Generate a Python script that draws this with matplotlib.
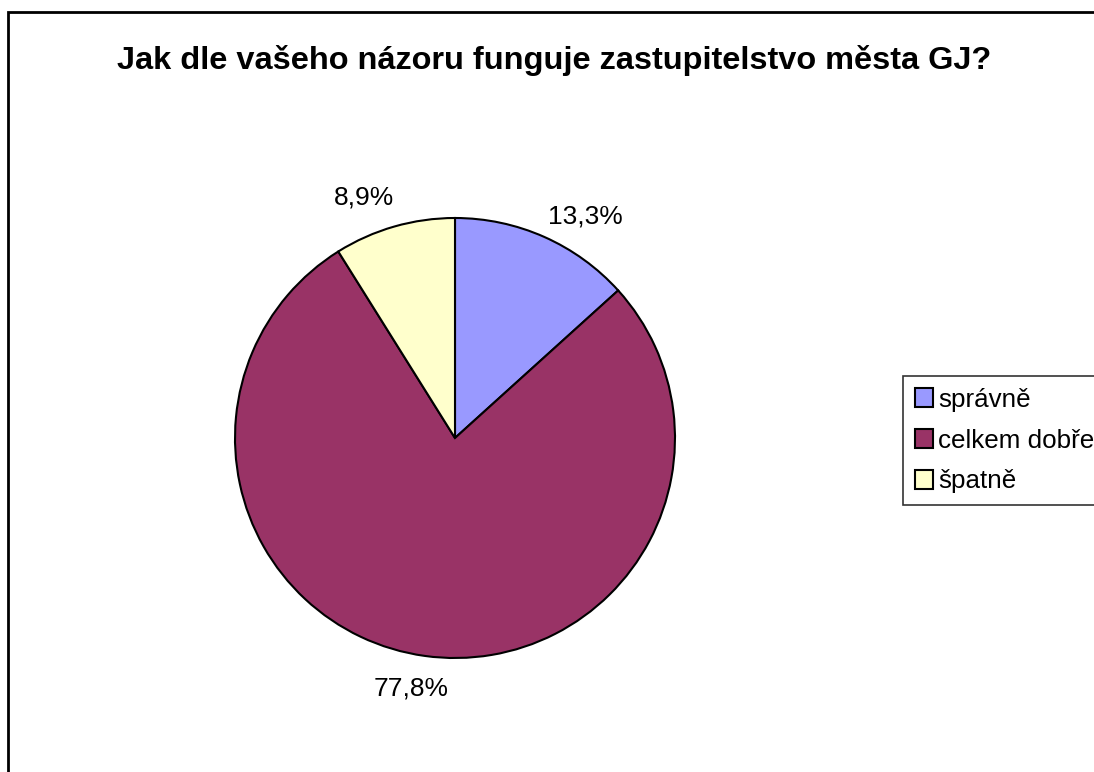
import matplotlib
matplotlib.use("Agg")
import matplotlib.pyplot as plt
from matplotlib.patches import Rectangle
import numpy as np

plt.rcParams['font.family'] = ['Liberation Sans', 'DejaVu Sans']

title = "Jak dle vašeho názoru funguje zastupitelstvo města GJ?"
categories = ["správně", "celkem dobře", "špatně"]
values = [13.3, 77.8, 8.9]
colors = ["#9999FF", "#993366", "#FFFFCC"]

W, H = 1094, 772
CX, CY, R = 455, H - 438, 220
fig = plt.figure(figsize=(W / 100, H / 100), dpi=100)
ax = fig.add_axes([0, 0, 1, 1])

wedges, texts, autotexts = ax.pie(
    values, colors=colors, startangle=90, counterclock=False,
    center=(CX, CY), radius=R,
    wedgeprops=dict(edgecolor='black', linewidth=1.5),
    autopct=lambda p: f"{p:.1f}%".replace('.', ','), pctdistance=1.16,
    textprops=dict(fontsize=19, color='black'))
ax.set_xlim(0, W)
ax.set_ylim(0, H)
ax.set_aspect('equal')
ax.axis('off')

# label placement (angle shift in degrees, distance factor) like the Excel layout
label_shift = [(-6.5, 1.17), (-2.1, 1.155), (4.6, 1.17)]
for w, t, (da, df) in zip(wedges, autotexts, label_shift):
    a = np.deg2rad((w.theta1 + w.theta2) / 2 + da)
    t.set_position((CX + R * df * np.cos(a), CY + R * df * np.sin(a)))

fig.text(554 / W, 1 - 60 / H, title, ha='center', va='center',
         fontsize=23.4, fontweight='bold')

leg = fig.legend(wedges, categories, loc='upper left',
                 bbox_to_anchor=(903 / W, 1 - 376 / H),
                 fontsize=18.7, frameon=True, fancybox=False,
                 edgecolor='black', handlelength=0.72, handleheight=0.72,
                 handletextpad=0.18, borderpad=0.45, labelspacing=0.65,
                 borderaxespad=0)
leg.get_frame().set_linewidth(1.2)

fig.patches.append(Rectangle((8 / W, -0.1), 1.2, 1 - 12 / H + 0.1,
                             transform=fig.transFigure, fill=False,
                             edgecolor='black', linewidth=2, clip_on=False))

fig.savefig("out.png", dpi=100, facecolor='white')
